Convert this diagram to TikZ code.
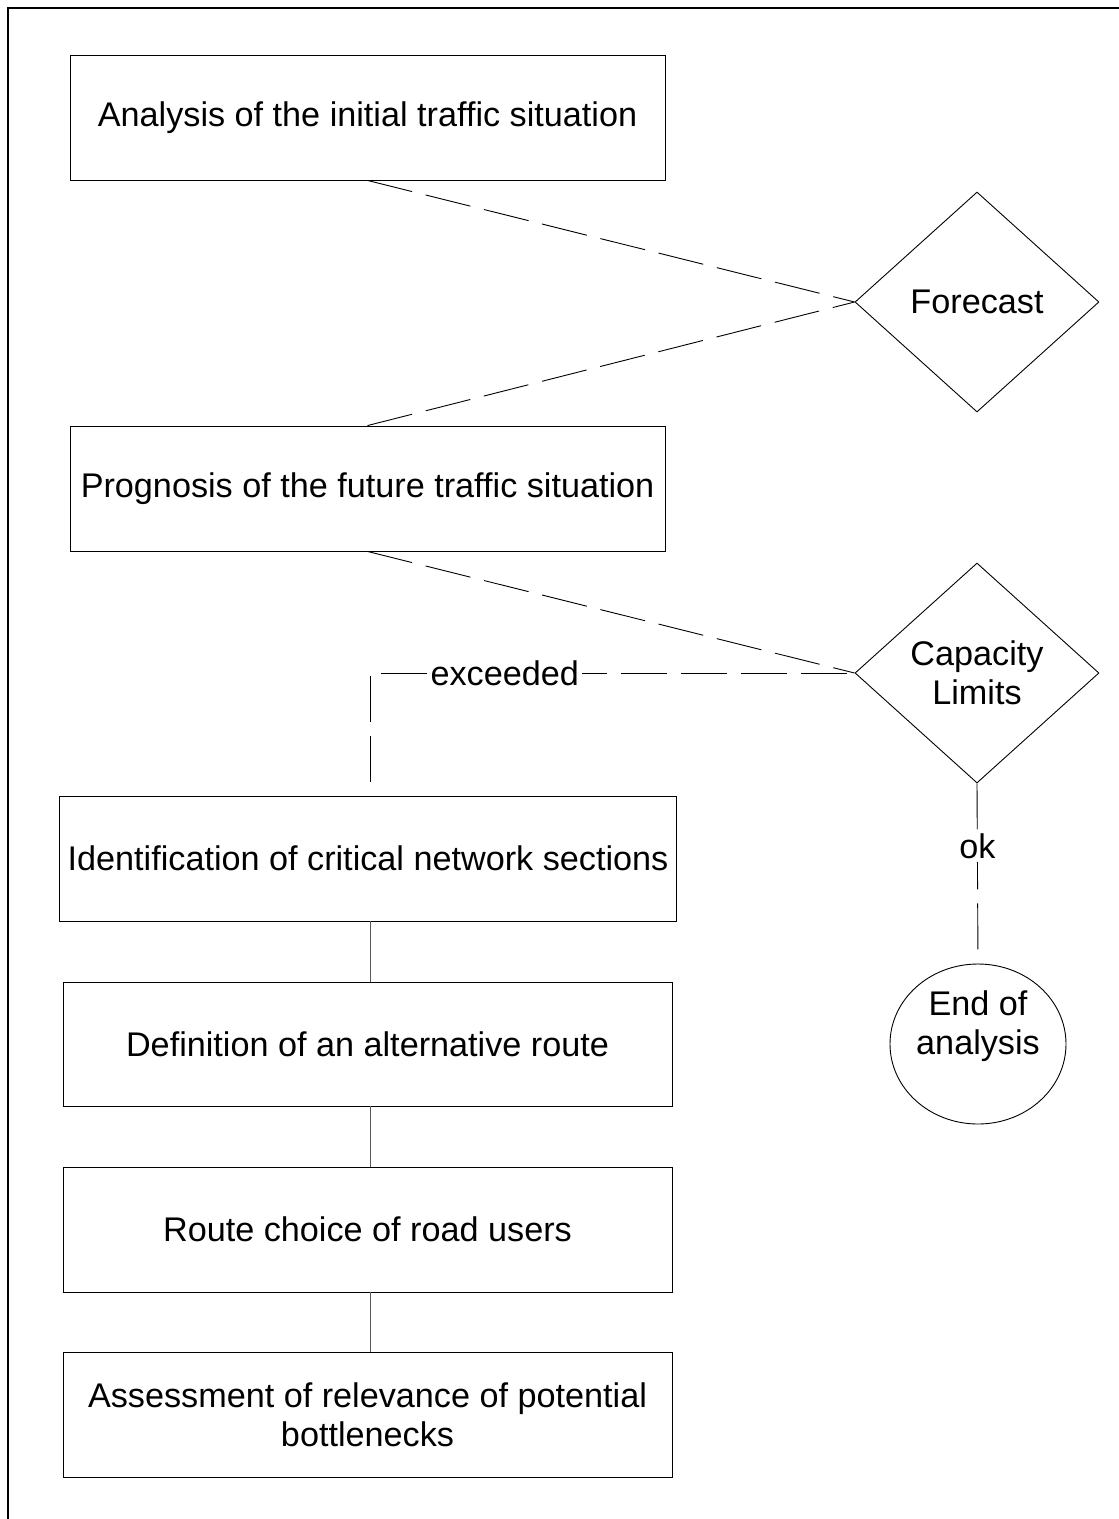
\documentclass[tikz,border=0pt]{standalone}
\usepackage{fontspec}
\setmainfont{Liberation Sans}
\usetikzlibrary{shapes.geometric}
\begin{document}
\begin{tikzpicture}[x=1pt,y=-1pt,
  every node/.style={font=\fontsize{34.2}{39}\selectfont},
  stepbox/.style={draw, line width=0.9pt, inner sep=0pt, align=center},
  decision/.style={draw, shape=diamond, line width=0.9pt, inner sep=0pt,
    minimum width=244, minimum height=220, aspect=1.11, align=center},
  flow/.style={line width=0.9pt, dash pattern=on 46pt off 14pt},
  chain/.style={line width=0.9pt, draw=black!65},
  tag/.style={fill=white, inner sep=3pt}]
\useasboundingbox (0,0) rectangle (1119,1519);
% page frame (top and left edges)
\draw[line width=1.6pt] (8,1519) -- (8,8) -- (1119,8);

% process steps
\node[stepbox, minimum width=595, minimum height=125] (init) at (367.5,117.5) {Analysis of the initial traffic situation};
\node[stepbox, minimum width=595, minimum height=125] (prog) at (367.5,488.5) {Prognosis of the future traffic situation};
\node[stepbox, minimum width=617, minimum height=125] (ident) at (368,858.5) {Identification of critical network sections};
\node[stepbox, minimum width=609, minimum height=124] (alt) at (367.5,1044) {Definition of an alternative route};
\node[stepbox, minimum width=609, minimum height=125] (route) at (367.5,1229.5) {Route choice of road users};
\node[stepbox, minimum width=609, minimum height=125] (assess) at (367.5,1414.5) {Assessment of relevance of potential\\bottlenecks};

% decisions
\node[decision] (fc) at (977,302) {Forecast};
\node[decision] (cap) at (977,673) {Capacity\\Limits};

% terminal
\node[draw, ellipse, line width=0.9pt, minimum width=176, minimum height=160, inner sep=0pt] (end) at (978,1044) {};
\node[align=center] (endtext) at (978,1026) {End of\\analysis};

% dashed connectors
\draw[flow] (init.south) -- (fc.west);
\draw[flow] (prog.north) -- (fc.west);
\draw[flow] (prog.south) -- (cap.west);
\coordinate (bend) at (370,673);
\draw[flow, dash phase=46pt] (ident.north -| bend) -- (bend) -- (cap.west)
  node[tag, pos=0.278] (exc) {exceeded};
\draw[flow] (cap.south) -- (end.north)
  node[tag, pos=0.35] (ok) {ok};

% solid connectors
\draw[chain] (ident.south -| bend) -- (alt.north -| bend);
\draw[chain] (alt.south -| bend) -- (route.north -| bend);
\draw[chain] (route.south -| bend) -- (assess.north -| bend);
\end{tikzpicture}
\end{document}
